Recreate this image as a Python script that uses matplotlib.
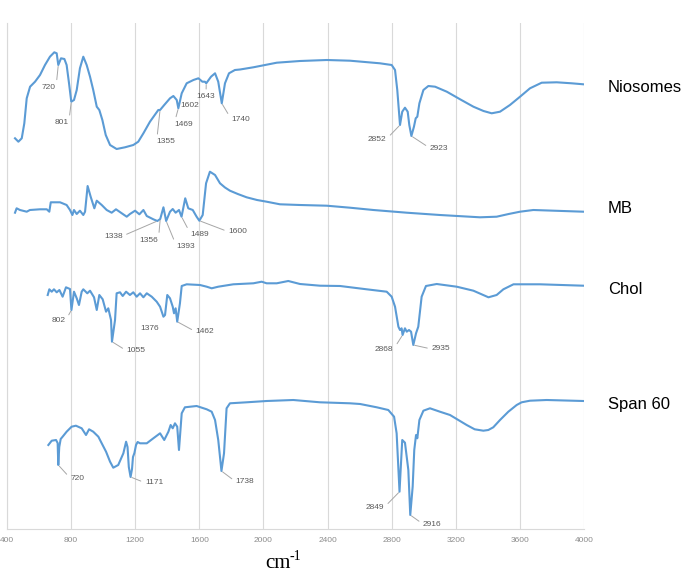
import numpy as np
import matplotlib
matplotlib.use("Agg")
import matplotlib.pyplot as plt

# FTIR spectra, stacked (arbitrary transmittance units, already offset)
wn_nio = [450, 471, 492, 508, 523, 544, 575, 606, 637, 668, 695, 710, 720, 737, 758, 772, 787,
          801, 818, 835, 855, 876, 897, 918, 938, 960, 976, 995, 1016, 1043, 1084, 1136, 1188,
          1219, 1251, 1292, 1344, 1355, 1381, 1417, 1438, 1459, 1469, 1490, 1521, 1563, 1594,
          1619, 1635, 1643, 1673, 1698, 1718, 1740, 1760, 1785, 1822, 1854, 1937, 2083, 2228,
          2395, 2540, 2727, 2800, 2821, 2835, 2848, 2852, 2866, 2883, 2900, 2910, 2923, 2939,
          2950, 2960, 2973, 2998, 3029, 3071, 3144, 3227, 3310, 3373, 3424, 3476, 3538, 3601,
          3663, 3736, 3830, 3923, 3996]
y_nio = [390.7, 387.3, 390.7, 405.7, 430.7, 442.3, 447.3, 454, 464, 472.3, 476.7, 475.7, 464,
         470.7, 470, 464, 445.7, 427.3, 429, 439, 460.7, 472.3, 464, 452.3, 439, 422.3, 419, 409,
         394, 384, 380, 381.7, 384, 387.3, 395.7, 407.3, 419, 419, 424, 430.7, 433, 429, 420.7,
         435.7, 445.7, 449, 450.7, 447.3, 447.3, 445.7, 452.3, 455.7, 447.3, 425.7, 445.7, 455.7,
         459, 459.5, 461.7, 466.3, 468, 469, 468.3, 465.7, 464, 459, 439, 412.3, 404, 417.3,
         421.3, 417.3, 404, 393, 402.3, 410.7, 412.3, 425.7, 439, 443, 442.3, 437.3, 429.7, 422.3,
         418, 415.7, 417.3, 424, 432.3, 440.7, 446.3, 446.7, 445.7, 444.7]

wn_mb = [450, 460, 481, 523, 543, 606, 648, 664, 673, 731, 772, 793, 808, 818, 835, 855, 876,
         887, 903, 922, 945, 960, 991, 1022, 1053, 1080, 1116, 1147, 1167, 1199, 1226, 1251,
         1272, 1313, 1338, 1356, 1376, 1393, 1417, 1434, 1452, 1473, 1489, 1512, 1531, 1559,
         1583, 1600, 1621, 1642, 1666, 1698, 1729, 1760, 1791, 1840, 1895, 1960, 2020, 2103,
         2228, 2395, 2540, 2686, 2894, 3101, 3351, 3455, 3530, 3601, 3684, 3996]
y_mb = [316.3, 320.7, 319, 317.3, 319, 319.7, 319.7, 317.3, 326.7, 326.7, 324, 319, 314, 319,
        315, 318.3, 314, 317.3, 343, 332.3, 320.7, 328.3, 324, 319, 316.3, 319.7, 315.7, 312.3,
        315, 318.3, 314.7, 319, 313, 309.7, 308, 310, 321.7, 308, 317.3, 320, 316.3, 319, 312.3,
        330.7, 320.7, 319, 312.3, 308.3, 314, 345.7, 357.3, 354, 345.7, 341.5, 338.3, 335,
        331.7, 329, 327.3, 324.7, 324, 323.3, 321.3, 319, 316.3, 314, 311.7, 312.3, 315, 317.3,
        319, 317.3]

wn_chol = [654, 664, 679, 693, 710, 727, 747, 768, 793, 802, 818, 835, 849, 866, 876, 901, 918,
           943, 960, 976, 997, 1018, 1032, 1049, 1055, 1074, 1084, 1105, 1122, 1143, 1167, 1188,
           1209, 1230, 1251, 1272, 1303, 1334, 1355, 1376, 1386, 1400, 1417, 1434, 1442, 1452,
           1462, 1479, 1490, 1521, 1604, 1646, 1677, 1718, 1812, 1937, 1989, 2020, 2083, 2155,
           2228, 2353, 2478, 2644, 2769, 2800, 2821, 2842, 2852, 2862, 2868, 2883, 2894, 2908,
           2921, 2935, 2952, 2966, 2987, 3014, 3081, 3206, 3310, 3404, 3455, 3497, 3560, 3725,
           3996]
y_chol = [234, 239.7, 237.3, 239.7, 236.7, 239, 232.3, 241.7, 240, 219, 237.3, 230.7, 224, 237.3,
          239.7, 235.7, 238.3, 231.7, 219, 234, 229.7, 217.3, 220.7, 209, 187.3, 209, 235.7,
          236.7, 233, 237.3, 234, 236.7, 232.3, 235.7, 231.7, 235.7, 232.3, 227.3, 222.3, 212.3,
          214, 234, 230.7, 222.3, 215.7, 220.7, 207.3, 225.7, 243, 244.7, 244, 242.3, 240.7,
          242.3, 244.7, 245.7, 247.3, 245.7, 245.7, 248, 245, 243.3, 243, 239.7, 237.3, 232.3,
          222.3, 202.3, 199, 200.7, 194, 200.7, 197.3, 199, 197.3, 184, 195.7, 202.3, 232.3, 243,
          245, 242.3, 238.3, 231.7, 234, 239.7, 244.7, 244.7, 243.3]

wn_span = [658, 679, 706, 716, 720, 726, 735, 747, 772, 803, 830, 866, 893, 912, 938, 970, 991,
           1018, 1043, 1063, 1094, 1126, 1143, 1152, 1160, 1171, 1180, 1186, 1195, 1205, 1215,
           1230, 1272, 1313, 1355, 1381, 1407, 1421, 1434, 1448, 1462, 1473, 1490, 1510, 1583,
           1646, 1677, 1698, 1718, 1738, 1754, 1770, 1791, 1895, 2020, 2186, 2353, 2540, 2603,
           2707, 2779, 2815, 2831, 2849, 2856, 2866, 2883, 2904, 2916, 2931, 2941, 2952, 2960,
           2973, 2998, 3039, 3101, 3164, 3216, 3268, 3318, 3372, 3403, 3434, 3476, 3528, 3580,
           3611, 3663, 3767, 3996]
y_span = [84, 88.3, 89, 86, 64, 82, 90, 92.3, 97.3, 102.3, 103.3, 100.7, 94, 99.7, 97.3, 92.3,
          85.7, 77.3, 67.3, 61.3, 64, 75.7, 87.3, 82, 62, 52, 60, 72, 76, 84, 87, 85.7, 85.7, 90.7,
          95.7, 89, 97.3, 104, 100.7, 105.7, 102.3, 79, 115.7, 121.7, 123, 119.7, 117.3, 109, 89,
          58, 75.7, 120.7, 125.7, 126.7, 128, 129, 126.7, 125.7, 125, 121.7, 119, 112.3, 95.7,
          37.3, 59, 89, 86.3, 59, 14, 42.3, 79, 94, 90.7, 109, 118.3, 120.7, 117.3, 114, 109, 104,
          99.7, 98.3, 99, 101.7, 109, 117.3, 124, 126.7, 128.3, 129, 128]

names = ["Niosomes", "MB", "Chol", "Span 60"]
name_y = [441.7, 320.7, 239, 124.7]

# peak labels: (label, peak wn, peak y, text wn, text y)
peaks = [
    ("720", 720, 464, 662, 441.7), ("801", 801, 427.3, 741, 406.3),
    ("1355", 1355, 419, 1392, 387.3), ("1469", 1469, 420.7, 1500, 404.7),
    ("1602", 1602, 449.5, 1542, 424), ("1643", 1643, 445.7, 1642, 432.3),
    ("1740", 1740, 425.7, 1858, 409.7), ("2852", 2852, 404, 2710, 390),
    ("2923", 2923, 393, 3095, 381),
    ("1338", 1338, 308, 1063, 293), ("1356", 1356, 310, 1286, 289),
    ("1393", 1393, 308, 1517, 282.3), ("1489", 1489, 312.3, 1604, 295),
    ("1600", 1600, 308.3, 1839, 297.3),
    ("802", 802, 219, 720, 208), ("1055", 1055, 187.3, 1205, 178.3),
    ("1376", None, None, 1292, 200.7), ("1462", 1462, 207.3, 1635, 197.3),
    ("2868", 2868, 194, 2754, 179.7), ("2935", 2935, 184, 3106, 180),
    ("720", 720, 64, 839, 50.7), ("1171", 1171, 52, 1317, 46.3),
    ("1738", 1738, 58, 1885, 47.3), ("2849", 2849, 37.3, 2696, 21.7),
    ("2916", 2916, 14, 3053, 5),
]

xticks = np.arange(400, 4001, 400)

blue = "#5B9BD5"
fig = plt.figure(figsize=(6.84, 5.74), dpi=100)
ax = fig.add_axes([7/684, 45/574, 577/684, 506/574])

for wn, yy in [(wn_nio, y_nio), (wn_mb, y_mb), (wn_chol, y_chol), (wn_span, y_span)]:
    ax.plot(wn, yy, color=blue, lw=1.5, solid_joinstyle="round")

for lab, px, py, tx, ty in peaks:
    if px is None:
        ax.text(tx, ty, lab, fontsize=6, color="#595959", ha="center", va="center",
                family="Liberation Sans")
        continue
    if abs(tx - px) < 30:
        rp = (0.5, 1)
    elif tx < px:
        rp = (1, 0.5)
    else:
        rp = (0, 0.5)
    ax.annotate(lab, xy=(px, py), xytext=(tx, ty), fontsize=6, color="#595959",
                ha="center", va="center", family="Liberation Sans",
                arrowprops=dict(arrowstyle="-", color="#A6A6A6", lw=0.7,
                                shrinkA=1, shrinkB=1, relpos=rp))

for nm, yy in zip(names, name_y):
    ax.text(4150, yy, nm, fontsize=12, family="Liberation Sans", va="center",
            ha="left", clip_on=False)

ax.set_xlim(400, 4000)
ax.set_ylim(0, 506)
ax.set_xticks(xticks)
ax.set_xticklabels([str(t) for t in xticks], fontsize=6, color="#8C8C8C",
                   family="Liberation Sans")
ax.set_yticks([])
ax.tick_params(axis="x", length=0, pad=6)
ax.grid(axis="x", color="#D9D9D9", lw=0.8)
ax.set_axisbelow(True)
for s in ["top", "right"]:
    ax.spines[s].set_visible(False)
ax.spines["left"].set_color("#D9D9D9")
ax.spines["bottom"].set_color("#D9D9D9")

# x label: cm^-1 with a plain hyphen
fig.text(265/684, 1 - 568/574, "cm", fontsize=15, family="Liberation Serif",
         ha="left", va="baseline")
fig.text(290/684, 1 - 560/574, "-1", fontsize=10, family="Liberation Serif",
         ha="left", va="baseline")

fig.savefig("out.png", dpi=100)
